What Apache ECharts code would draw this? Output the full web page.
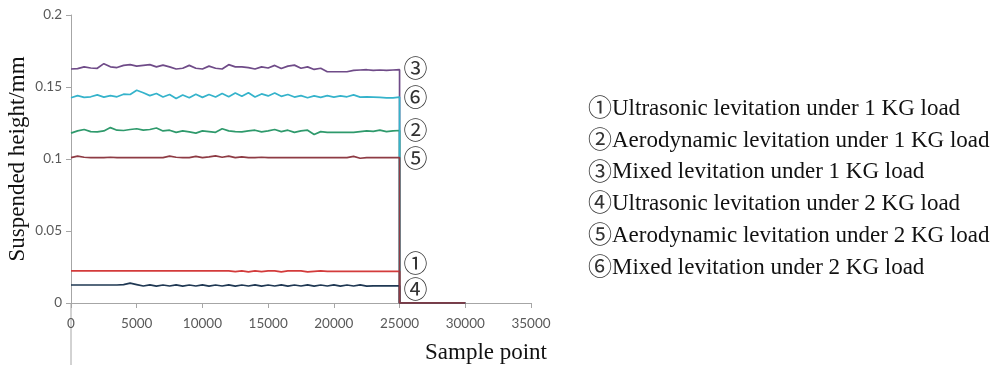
<!DOCTYPE html>
<html>
<head>
<meta charset="utf-8">
<script src="https://cdn.jsdelivr.net/npm/echarts@6/dist/echarts.min.js"></script>
<style>
  html, body { margin: 0; padding: 0; background: #fff; }
  #myChart { width: 1005px; height: 365px; }
</style>
</head>
<body>
<div id="myChart"></div>
<script>
// sample points 0..25000 (step 500)
var samplePoints = [0, 500, 1000, 1500, 2000, 2500, 3000, 3500, 4000, 4500,
  5000, 5500, 6000, 6500, 7000, 7500, 8000, 8500, 9000, 9500,
  10000, 10500, 11000, 11500, 12000, 12500, 13000, 13500, 14000, 14500,
  15000, 15500, 16000, 16500, 17000, 17500, 18000, 18500, 19000, 19500,
  20000, 20500, 21000, 21500, 22000, 22500, 23000, 23500, 24000, 24500, 25000];

// after the run every curve drops to zero
var tailPoints = [25000, 30000];
var tailValues = [0, 0];

var ultrasonic1kg = [0.0223, 0.0223, 0.0223, 0.0223, 0.0223, 0.0223, 0.0223, 0.0223, 0.0223, 0.0223,
  0.0223, 0.0223, 0.0223, 0.0223, 0.0223, 0.0223, 0.0223, 0.0223, 0.0223, 0.0223,
  0.0223, 0.0223, 0.0223, 0.0223, 0.0223, 0.0218, 0.0223, 0.0216, 0.0223, 0.0218,
  0.0223, 0.0223, 0.0216, 0.0223, 0.0223, 0.0223, 0.0216, 0.0220, 0.0223, 0.0220,
  0.0220, 0.0220, 0.0220, 0.0220, 0.0220, 0.0220, 0.0220, 0.0220, 0.0220, 0.0220, 0.0220];

var aero1kg = [0.1180, 0.1195, 0.1205, 0.1190, 0.1188, 0.1195, 0.1218, 0.1200, 0.1198, 0.1205,
  0.1210, 0.1200, 0.1205, 0.1215, 0.1195, 0.1200, 0.1185, 0.1195, 0.1188, 0.1180,
  0.1195, 0.1190, 0.1185, 0.1210, 0.1195, 0.1190, 0.1188, 0.1195, 0.1200, 0.1188,
  0.1195, 0.1205, 0.1190, 0.1200, 0.1185, 0.1195, 0.1200, 0.1170, 0.1190, 0.1185,
  0.1185, 0.1185, 0.1185, 0.1185, 0.1190, 0.1195, 0.1192, 0.1200, 0.1190, 0.1195, 0.1198];

var mixed1kg = [0.1625, 0.1628, 0.1640, 0.1632, 0.1630, 0.1662, 0.1640, 0.1635, 0.1650, 0.1655,
  0.1645, 0.1650, 0.1655, 0.1640, 0.1652, 0.1640, 0.1625, 0.1630, 0.1650, 0.1630,
  0.1625, 0.1645, 0.1630, 0.1625, 0.1655, 0.1640, 0.1640, 0.1635, 0.1625, 0.1640,
  0.1632, 0.1650, 0.1628, 0.1645, 0.1652, 0.1630, 0.1640, 0.1622, 0.1630, 0.1606,
  0.1606, 0.1606, 0.1606, 0.1615, 0.1618, 0.1620, 0.1615, 0.1618, 0.1615, 0.1618, 0.1620];

var ultrasonic2kg = [0.0125, 0.0125, 0.0125, 0.0125, 0.0125, 0.0125, 0.0125, 0.0125, 0.0128, 0.0138,
  0.0128, 0.0118, 0.0126, 0.0117, 0.0125, 0.0118, 0.0126, 0.0117, 0.0125, 0.0118,
  0.0126, 0.0117, 0.0125, 0.0118, 0.0126, 0.0117, 0.0125, 0.0118, 0.0126, 0.0117,
  0.0125, 0.0118, 0.0126, 0.0117, 0.0125, 0.0118, 0.0126, 0.0117, 0.0125, 0.0118,
  0.0126, 0.0117, 0.0125, 0.0118, 0.0126, 0.0117, 0.0119, 0.0119, 0.0119, 0.0119, 0.0119];

var aero2kg = [0.1010, 0.1020, 0.1012, 0.1010, 0.1010, 0.1010, 0.1012, 0.1010, 0.1010, 0.1010,
  0.1010, 0.1010, 0.1010, 0.1010, 0.1010, 0.1020, 0.1012, 0.1010, 0.1010, 0.1018,
  0.1010, 0.1015, 0.1022, 0.1012, 0.1020, 0.1010, 0.1015, 0.1010, 0.1010, 0.1012,
  0.1010, 0.1010, 0.1010, 0.1010, 0.1010, 0.1010, 0.1010, 0.1010, 0.1010, 0.1010,
  0.1010, 0.1010, 0.1010, 0.1018, 0.1005, 0.1010, 0.1010, 0.1010, 0.1010, 0.1010, 0.1010];

var mixed2kg = [0.1425, 0.1440, 0.1428, 0.1432, 0.1445, 0.1430, 0.1440, 0.1432, 0.1450, 0.1448,
  0.1478, 0.1460, 0.1440, 0.1455, 0.1430, 0.1448, 0.1420, 0.1445, 0.1425, 0.1450,
  0.1428, 0.1448, 0.1430, 0.1455, 0.1432, 0.1458, 0.1435, 0.1460, 0.1430, 0.1452,
  0.1438, 0.1458, 0.1435, 0.1448, 0.1430, 0.1440, 0.1425, 0.1438, 0.1428, 0.1440,
  0.1430, 0.1438, 0.1432, 0.1445, 0.1430, 0.1432, 0.1430, 0.1428, 0.1425, 0.1425, 0.1430];

var marks = ['\u2460', '\u2461', '\u2462', '\u2463', '\u2464', '\u2465'];
var captions = [
  'Ultrasonic levitation under 1 KG load',
  'Aerodynamic levitation under 1 KG load',
  'Mixed levitation under 1 KG load',
  'Ultrasonic levitation under 2 KG load',
  'Aerodynamic levitation under 2 KG load',
  'Mixed levitation under 2 KG load'
];
var names = captions.map(function (c, i) { return marks[i] + c; });

var serif = "'Liberation Serif', 'Times New Roman', serif";
var circleFont = "'Noto Sans CJK JP', 'Noto Sans CJK SC', sans-serif";

function makeSeries(idx, values, color, labelOffset) {
  var data = [];
  for (var i = 0; i < samplePoints.length; i++) data.push([samplePoints[i], values[i]]);
  for (var j = 0; j < tailPoints.length; j++) data.push([tailPoints[j], tailValues[j]]);
  var last = values[values.length - 1];
  return {
    name: names[idx],
    type: 'line',
    data: data,
    showSymbol: false,
    lineStyle: { color: color, width: 1.7 },
    itemStyle: { color: color },
    markPoint: {
      symbol: 'circle',
      symbolSize: 0,
      label: {
        show: true,
        position: 'right',
        distance: 4,
        offset: [0, labelOffset],
        formatter: marks[idx],
        color: '#333',
        fontSize: 24,
        fontFamily: circleFont
      },
      data: [{ coord: [samplePoints[samplePoints.length - 1], last] }]
    }
  };
}

var myChart = echarts.init(document.getElementById('myChart'));

var option = {
  animation: false,
  backgroundColor: '#fff',
  grid: { left: 71, top: 15, width: 460, bottom: 62 },
  legend: {
    data: names,
    orient: 'vertical',
    left: 578,
    top: 90,
    icon: 'none',
    itemWidth: 0,
    itemGap: 3.7,
    selectedMode: false,
    formatter: function (name) {
      var i = names.indexOf(name);
      return '{c|' + marks[i] + '}{t|' + captions[i] + '}';
    },
    textStyle: {
      color: '#111',
      rich: {
        c: { fontSize: 24, lineHeight: 23, fontFamily: circleFont, color: '#333', padding: [0, 0, 4, 0] },
        t: { fontSize: 23, lineHeight: 23, fontFamily: serif, color: '#111' }
      }
    }
  },
  xAxis: {
    type: 'value',
    min: 0,
    max: 35000,
    interval: 5000,
    name: 'Sample point',
    nameLocation: 'end',
    nameGap: -45,
    nameTextStyle: {
      color: '#111', fontSize: 23, fontFamily: serif,
      align: 'center', verticalAlign: 'top', padding: [38, 0, 0, 0]
    },
    axisLine: { lineStyle: { color: '#a6a6a6' } },
    axisTick: { show: true, length: 5, lineStyle: { color: '#a6a6a6' } },
    axisLabel: {
      color: '#595959', fontSize: 13.5, fontFamily: 'Lato', margin: 14,
      formatter: function (v) { return String(v); }
    },
    splitLine: { show: false }
  },
  yAxis: {
    type: 'value',
    min: 0,
    max: 0.2,
    interval: 0.05,
    name: 'Suspended height/mm',
    nameLocation: 'middle',
    nameGap: 42,
    nameTextStyle: { color: '#111', fontSize: 23, fontFamily: serif },
    axisLine: { show: true, lineStyle: { color: '#a6a6a6' } },
    axisTick: { show: true, length: 5, lineStyle: { color: '#a6a6a6' } },
    axisLabel: { color: '#595959', fontSize: 13.5, fontFamily: 'Lato', margin: 9 },
    splitLine: { show: false }
  },
  series: [
    makeSeries(2, mixed1kg, '#6f4b88', -2),
    makeSeries(1, aero1kg, '#2f9a6c', -1),
    makeSeries(5, mixed2kg, '#35b3cb', 0),
    makeSeries(0, ultrasonic1kg, '#d33b3b', -8),
    makeSeries(3, ultrasonic2kg, '#1f3853', 3),
    makeSeries(4, aero2kg, '#8e3b44', 0)
  ]
};

myChart.setOption(option);

// the y axis line runs on below the x axis in the original
var origin = myChart.convertToPixel({ gridIndex: 0 }, [0, 0]);
myChart.setOption({
  graphic: [{
    type: 'line',
    shape: { x1: origin[0], y1: origin[1], x2: origin[0], y2: 365 },
    style: { stroke: '#a6a6a6', lineWidth: 1 }
  }]
});
</script>
</body>
</html>
